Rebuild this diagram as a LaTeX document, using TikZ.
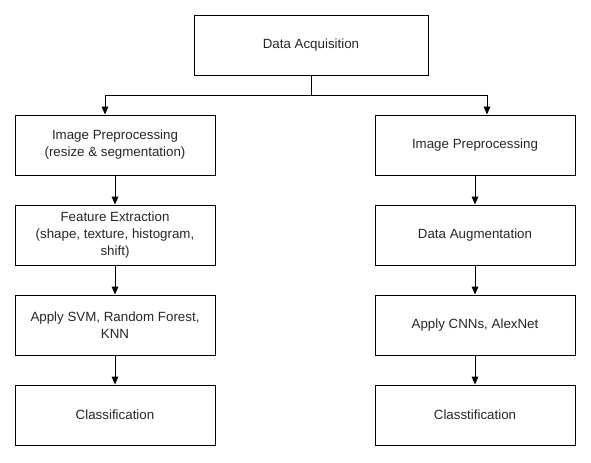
\documentclass[tikz,border=0pt]{standalone}
\usepackage{fontspec}
\setmainfont{Liberation Sans}
\usetikzlibrary{arrows.meta}
\begin{document}
\begin{tikzpicture}[x=0.75pt,y=-0.75pt,
  box/.style={draw=black, line width=0.75pt, minimum width=150pt, minimum height=45pt,
    inner sep=0pt, align=center, text=black!85, font=\fontsize{10}{12.75}\selectfont},
  wide/.style={minimum width=175.5pt},
  arr/.style={-{Triangle[length=6pt,width=5pt]}, line width=0.75pt},
  ln/.style={line width=0.75pt}]
\useasboundingbox (0,0) rectangle (591,462);
\node[box, wide] (da) at (311,45) {Data Acquisition};
\node[box] (l1) at (115,145) {Image Preprocessing\\(resize \& segmentation)};
\node[box] (l2) at (115,235) {Feature Extraction\\(shape, texture, histogram,\\shift)};
\node[box] (l3) at (115,325) {Apply SVM, Random Forest,\\KNN};
\node[box] (l4) at (115,415) {Classification};
\node[box] (r1) at (475,145) {Image Preprocessing};
\node[box] (r2) at (475,235) {Data Augmentation};
\node[box] (r3) at (475,325) {Apply CNNs, AlexNet};
\node[box] (r4) at (475,415) {Classtification};
\coordinate (j) at (311,95);
\draw[ln] (da.south) -- (j);
\draw[arr] (j) -| ([xshift=-7.5pt]l1.north);
\draw[arr] (j) -| ([xshift=9pt]r1.north);
\draw[arr] (l1) -- (l2);
\draw[arr] (l2) -- (l3);
\draw[arr] (l3) -- (l4);
\draw[arr] (r1) -- (r2);
\draw[arr] (r2) -- (r3);
\draw[arr] (r3) -- (r4);
\end{tikzpicture}
\end{document}
